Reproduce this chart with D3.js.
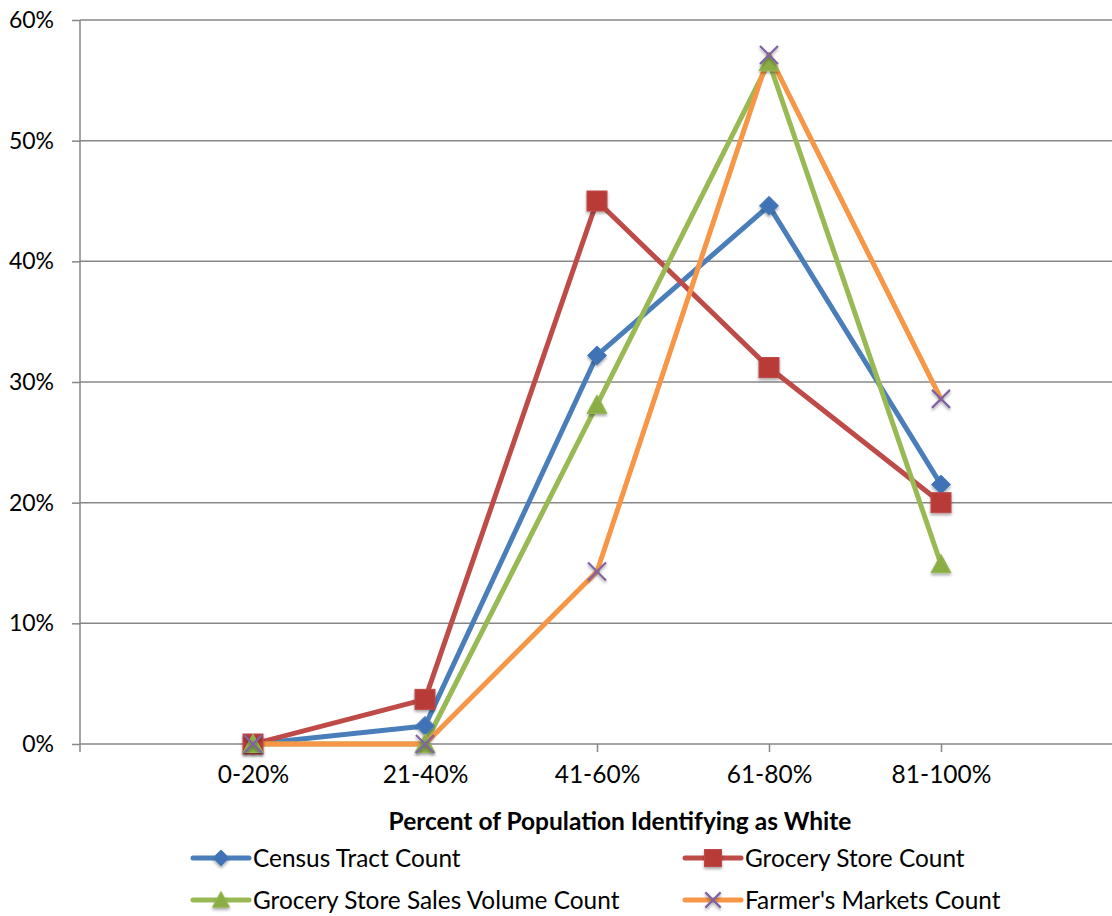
<!DOCTYPE html>
<html>
<head>
<meta charset="utf-8">
<script src="https://cdn.jsdelivr.net/npm/d3@7"></script>
<style>
  html, body { margin: 0; padding: 0; background: #fff; }
  svg { display: block; }
  text { font-family: Lato, "Open Sans", sans-serif; fill: #000; }
</style>
</head>
<body>
<svg id="chart" width="1112" height="916"></svg>
<script>
// Share of each count falling in each band of population identifying as White
const categories = ["0-20%", "21-40%", "41-60%", "61-80%", "81-100%"];
const censusTract = [0, 1.5, 32.2, 44.6, 21.5];
const groceryStore = [0, 3.7, 45.0, 31.2, 20.0];
const grocerySales = [0, 0, 28.1, 56.5, 14.9];
const farmersMarkets = [0, 0, 14.3, 57.1, 28.6];
const yTicks = [0, 10, 20, 30, 40, 50, 60];

const seriesNames = ["Census Tract Count", "Grocery Store Count", "Grocery Store Sales Volume Count", "Farmer's Markets Count"];
const seriesValues = [censusTract, groceryStore, grocerySales, farmersMarkets];
const seriesColors = ["#4a7ebb", "#be4b48", "#98b954", "#f79646"];
const markerFill = ["#3f73b5", "#b83b38", "#8aae45", null];
const markerTypes = ["diamond", "square", "triangle", "cross"];
const xMarkColor = "#7f62a3";

const svg = d3.select("#chart");
const plotLeft = 80, plotRight = 1112, plotTop = 20, plotBottom = 744;

const x = d3.scalePoint().domain(categories).range([plotLeft + 1, plotRight + 1]).padding(1);
const y = d3.scaleLinear().domain([0, 60]).range([plotBottom, plotTop]);

const defs = svg.append("defs");
const sh = defs.append("filter").attr("id", "shadow")
  .attr("x", "-50%").attr("y", "-50%").attr("width", "200%").attr("height", "200%");
sh.append("feDropShadow").attr("dx", 0).attr("dy", 2).attr("stdDeviation", 1.6)
  .attr("flood-color", "#000").attr("flood-opacity", 0.35);

// horizontal gridlines
svg.append("g").selectAll("line").data(yTicks.filter(d => d > 0)).join("line")
  .attr("x1", plotLeft).attr("x2", plotRight)
  .attr("y1", d => y(d)).attr("y2", d => y(d))
  .attr("stroke", "#878787").attr("stroke-width", 1.5);

// y axis
const yAxis = svg.append("g").attr("transform", `translate(${plotLeft},0)`)
  .call(d3.axisLeft(y).tickValues(yTicks).tickFormat(d => d + "%").tickSize(8).tickPadding(18));
yAxis.select(".domain").attr("stroke", "#878787").attr("stroke-width", 1.5)
  .attr("d", `M0,${plotTop}V${plotBottom + 8}`);
yAxis.selectAll(".tick line").attr("stroke", "#878787").attr("stroke-width", 1.5);
yAxis.selectAll(".tick text").attr("font-size", 23).attr("font-family", "Lato, sans-serif").attr("fill", "#000");

// x axis
const xAxis = svg.append("g").attr("transform", `translate(0,${plotBottom})`)
  .call(d3.axisBottom(x).tickSize(8).tickPadding(14));
xAxis.select(".domain").attr("stroke", "#878787").attr("stroke-width", 1.5)
  .attr("d", `M${plotLeft},0H${plotRight}`);
xAxis.selectAll(".tick line").attr("stroke", "#878787").attr("stroke-width", 1.5);
xAxis.selectAll(".tick text").attr("font-size", 24.5).attr("font-family", "Lato, sans-serif").attr("fill", "#000");

// axis title
svg.append("text").attr("x", 620).attr("y", 830).attr("text-anchor", "middle")
  .attr("font-size", 24.5).attr("font-weight", "bold").text("Percent of Population Identifying as White");

const line = d3.line().x((d, i) => x(categories[i])).y(d => y(d));

function drawMarker(g, type, i, cx, cy, s) {
  if (type === "diamond") {
    g.append("path").attr("d", `M${cx},${cy - s}L${cx + s},${cy}L${cx},${cy + s}L${cx - s},${cy}Z`)
      .attr("fill", markerFill[i]).attr("stroke", seriesColors[i]).attr("stroke-width", 1).attr("filter", "url(#shadow)");
  } else if (type === "square") {
    g.append("rect").attr("x", cx - s).attr("y", cy - s).attr("width", 2 * s).attr("height", 2 * s)
      .attr("fill", markerFill[i]).attr("stroke", seriesColors[i]).attr("stroke-width", 1).attr("filter", "url(#shadow)");
  } else if (type === "triangle") {
    g.append("path").attr("d", `M${cx},${cy - s}L${cx + s},${cy + s * 0.85}L${cx - s},${cy + s * 0.85}Z`)
      .attr("fill", markerFill[i]).attr("stroke", seriesColors[i]).attr("stroke-width", 1).attr("filter", "url(#shadow)");
  } else {
    g.append("path").attr("d", `M${cx - s},${cy - s}L${cx + s},${cy + s}M${cx + s},${cy - s}L${cx - s},${cy + s}`)
      .attr("fill", "none").attr("stroke", xMarkColor).attr("stroke-width", 2.2).attr("filter", "url(#shadow)");
  }
}

const plot = svg.append("g");
seriesValues.forEach((vals, i) => {
  plot.append("path").datum(vals).attr("d", line)
    .attr("fill", "none").attr("stroke", seriesColors[i]).attr("stroke-width", 5)
    .attr("stroke-linejoin", "round").attr("stroke-linecap", "round");
});
const sizes = [9.5, 10, 10, 9];
seriesValues.forEach((vals, i) => {
  const g = plot.append("g");
  vals.forEach((v, j) => drawMarker(g, markerTypes[i], i, x(categories[j]), y(v), sizes[i]));
});

// legend
const legendPos = [[193, 858], [685, 858], [193, 900], [685, 900]];
seriesNames.forEach((name, i) => {
  const [lx, ly] = legendPos[i];
  const g = svg.append("g");
  g.append("line").attr("x1", lx).attr("x2", lx + 56).attr("y1", ly).attr("y2", ly)
    .attr("stroke", seriesColors[i]).attr("stroke-width", 5).attr("stroke-linecap", "round");
  drawMarker(g, markerTypes[i], i, lx + 28, ly, sizes[i] * 0.85);
  g.append("text").attr("x", lx + 60).attr("y", ly).attr("dy", "0.35em")
    .attr("font-size", 24.4).text(name);
});
</script>
</body>
</html>
